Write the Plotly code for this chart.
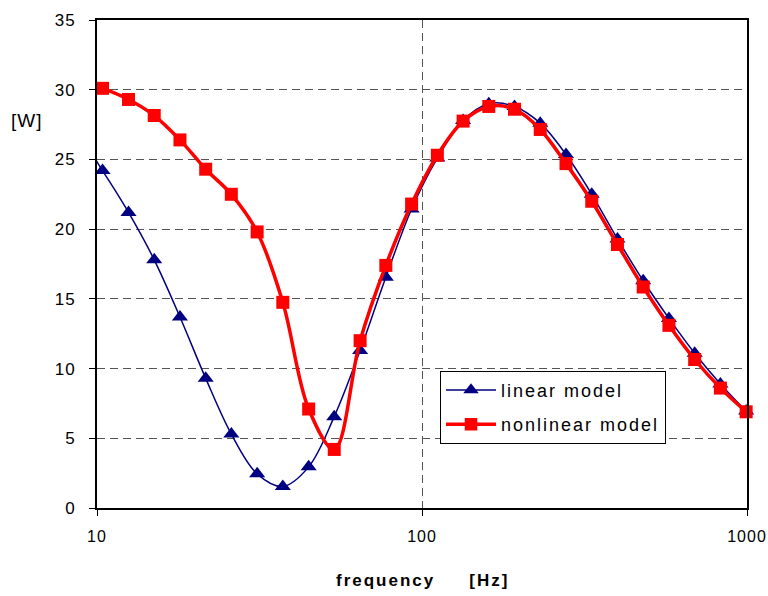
import plotly.graph_objects as go

# Frequency points (Hz) at which both models were evaluated
freq = [8.67, 10.4, 12.5, 15.0, 18.0, 21.6, 25.9, 31.1, 37.3, 44.8, 53.7, 64.5, 77.4,
        92.9, 111.5, 133.8, 160.5, 192.6, 231.1, 277.4, 332.9, 399.4, 479.3,
        575.2, 690.2, 828.3, 994.0]

# Power [W] for the linear and nonlinear models
linear = [27.1, 24.2, 21.2, 17.8, 13.7, 9.3, 5.3, 2.45, 1.55, 2.95, 6.55, 11.3, 16.55,
          21.45, 25.1, 27.8, 29.0, 28.8, 27.6, 25.35, 22.5, 19.3, 16.3,
          13.6, 11.1, 8.9, 6.95]
nonlinear = [30.8, 30.1, 29.3, 28.15, 26.4, 24.3, 22.5, 19.8, 14.75, 7.1, 4.2, 12.0, 17.4,
             21.8, 25.3, 27.75, 28.8, 28.6, 27.15, 24.7, 22.0, 18.9, 15.85,
             13.1, 10.65, 8.6, 6.9]

y_ticks = [0, 5, 10, 15, 20, 25, 30, 35]
x_ticks = [10, 100, 1000]

FONT = "Liberation Sans, Arial, sans-serif"


def spaced(text, px=2):
    return f'<span style="letter-spacing:{px}px">{text}</span>'


# first point lies just left of the axis range; its marker is hidden
marker_sizes_lin = [0] + [14] * (len(freq) - 1)
marker_sizes_non = [0] + [13] * (len(freq) - 1)

fig = go.Figure()
fig.add_trace(go.Scatter(
    x=freq, y=linear, mode="lines+markers", name=spaced("linear model"),
    line=dict(color="#000080", width=1.5, shape="spline", smoothing=1.0),
    marker=dict(symbol="triangle-up", size=marker_sizes_lin, color="#000080",
                opacity=1, line=dict(width=0)),
    legendgroup="a", cliponaxis=False,
))
fig.add_trace(go.Scatter(
    x=freq, y=nonlinear, mode="lines+markers", name=spaced("nonlinear model"),
    line=dict(color="#FF0000", width=3.5, shape="spline", smoothing=1.0),
    marker=dict(symbol="square", size=marker_sizes_non, color="#FF0000",
                opacity=1, line=dict(width=0)),
    legendgroup="b", cliponaxis=False,
))

fig.update_layout(
    width=768, height=596,
    margin=dict(l=97, r=21, t=20, b=88, autoexpand=False),
    paper_bgcolor="white", plot_bgcolor="white",
    font=dict(family=FONT, color="black", size=16),
    showlegend=True,
    legend=dict(
        x=0.5277, y=0.2814, xanchor="left", yanchor="top",
        bgcolor="white", bordercolor="black", borderwidth=1,
        font=dict(family=FONT, size=18, color="black"),
        tracegroupgap=8, itemwidth=50,
    ),
)

fig.update_xaxes(
    type="log", range=[1, 3], automargin=False,
    tickvals=x_ticks, ticktext=[spaced(str(v), 1) for v in x_ticks],
    ticks="outside", ticklen=6, tickcolor="black", tickwidth=1,
    ticklabelstandoff=7,
    showline=True, linecolor="black", linewidth=2, mirror=True,
    showgrid=True, gridcolor="#555555", gridwidth=1, griddash="8px,5px",
    zeroline=False,
    tickfont=dict(family=FONT, size=16),
)
fig.update_yaxes(
    range=[0, 35], automargin=False,
    tickvals=y_ticks, ticktext=[spaced(str(v), 1) for v in y_ticks],
    ticks="outside", ticklen=6, tickcolor="black", tickwidth=1,
    ticklabelstandoff=10,
    showline=True, linecolor="black", linewidth=2, mirror=True,
    showgrid=True, gridcolor="#555555", gridwidth=1, griddash="8px,5px",
    zeroline=False,
    tickfont=dict(family=FONT, size=17),
)

# axis captions
fig.add_annotation(
    text=spaced("[W]", 1), xref="paper", yref="paper",
    x=-0.108, y=0.795, xanchor="center", yanchor="middle",
    showarrow=False, font=dict(family=FONT, size=19),
)
fig.add_annotation(
    text="<b>" + spaced("frequency") + "</b>" + "\u2003\u2003" + "<b>" + spaced("[Hz]") + "</b>",
    xref="paper", yref="paper",
    x=0.5, y=-0.148, xanchor="center", yanchor="middle",
    showarrow=False, font=dict(family=FONT, size=17),
)

fig.write_html("out.html")
